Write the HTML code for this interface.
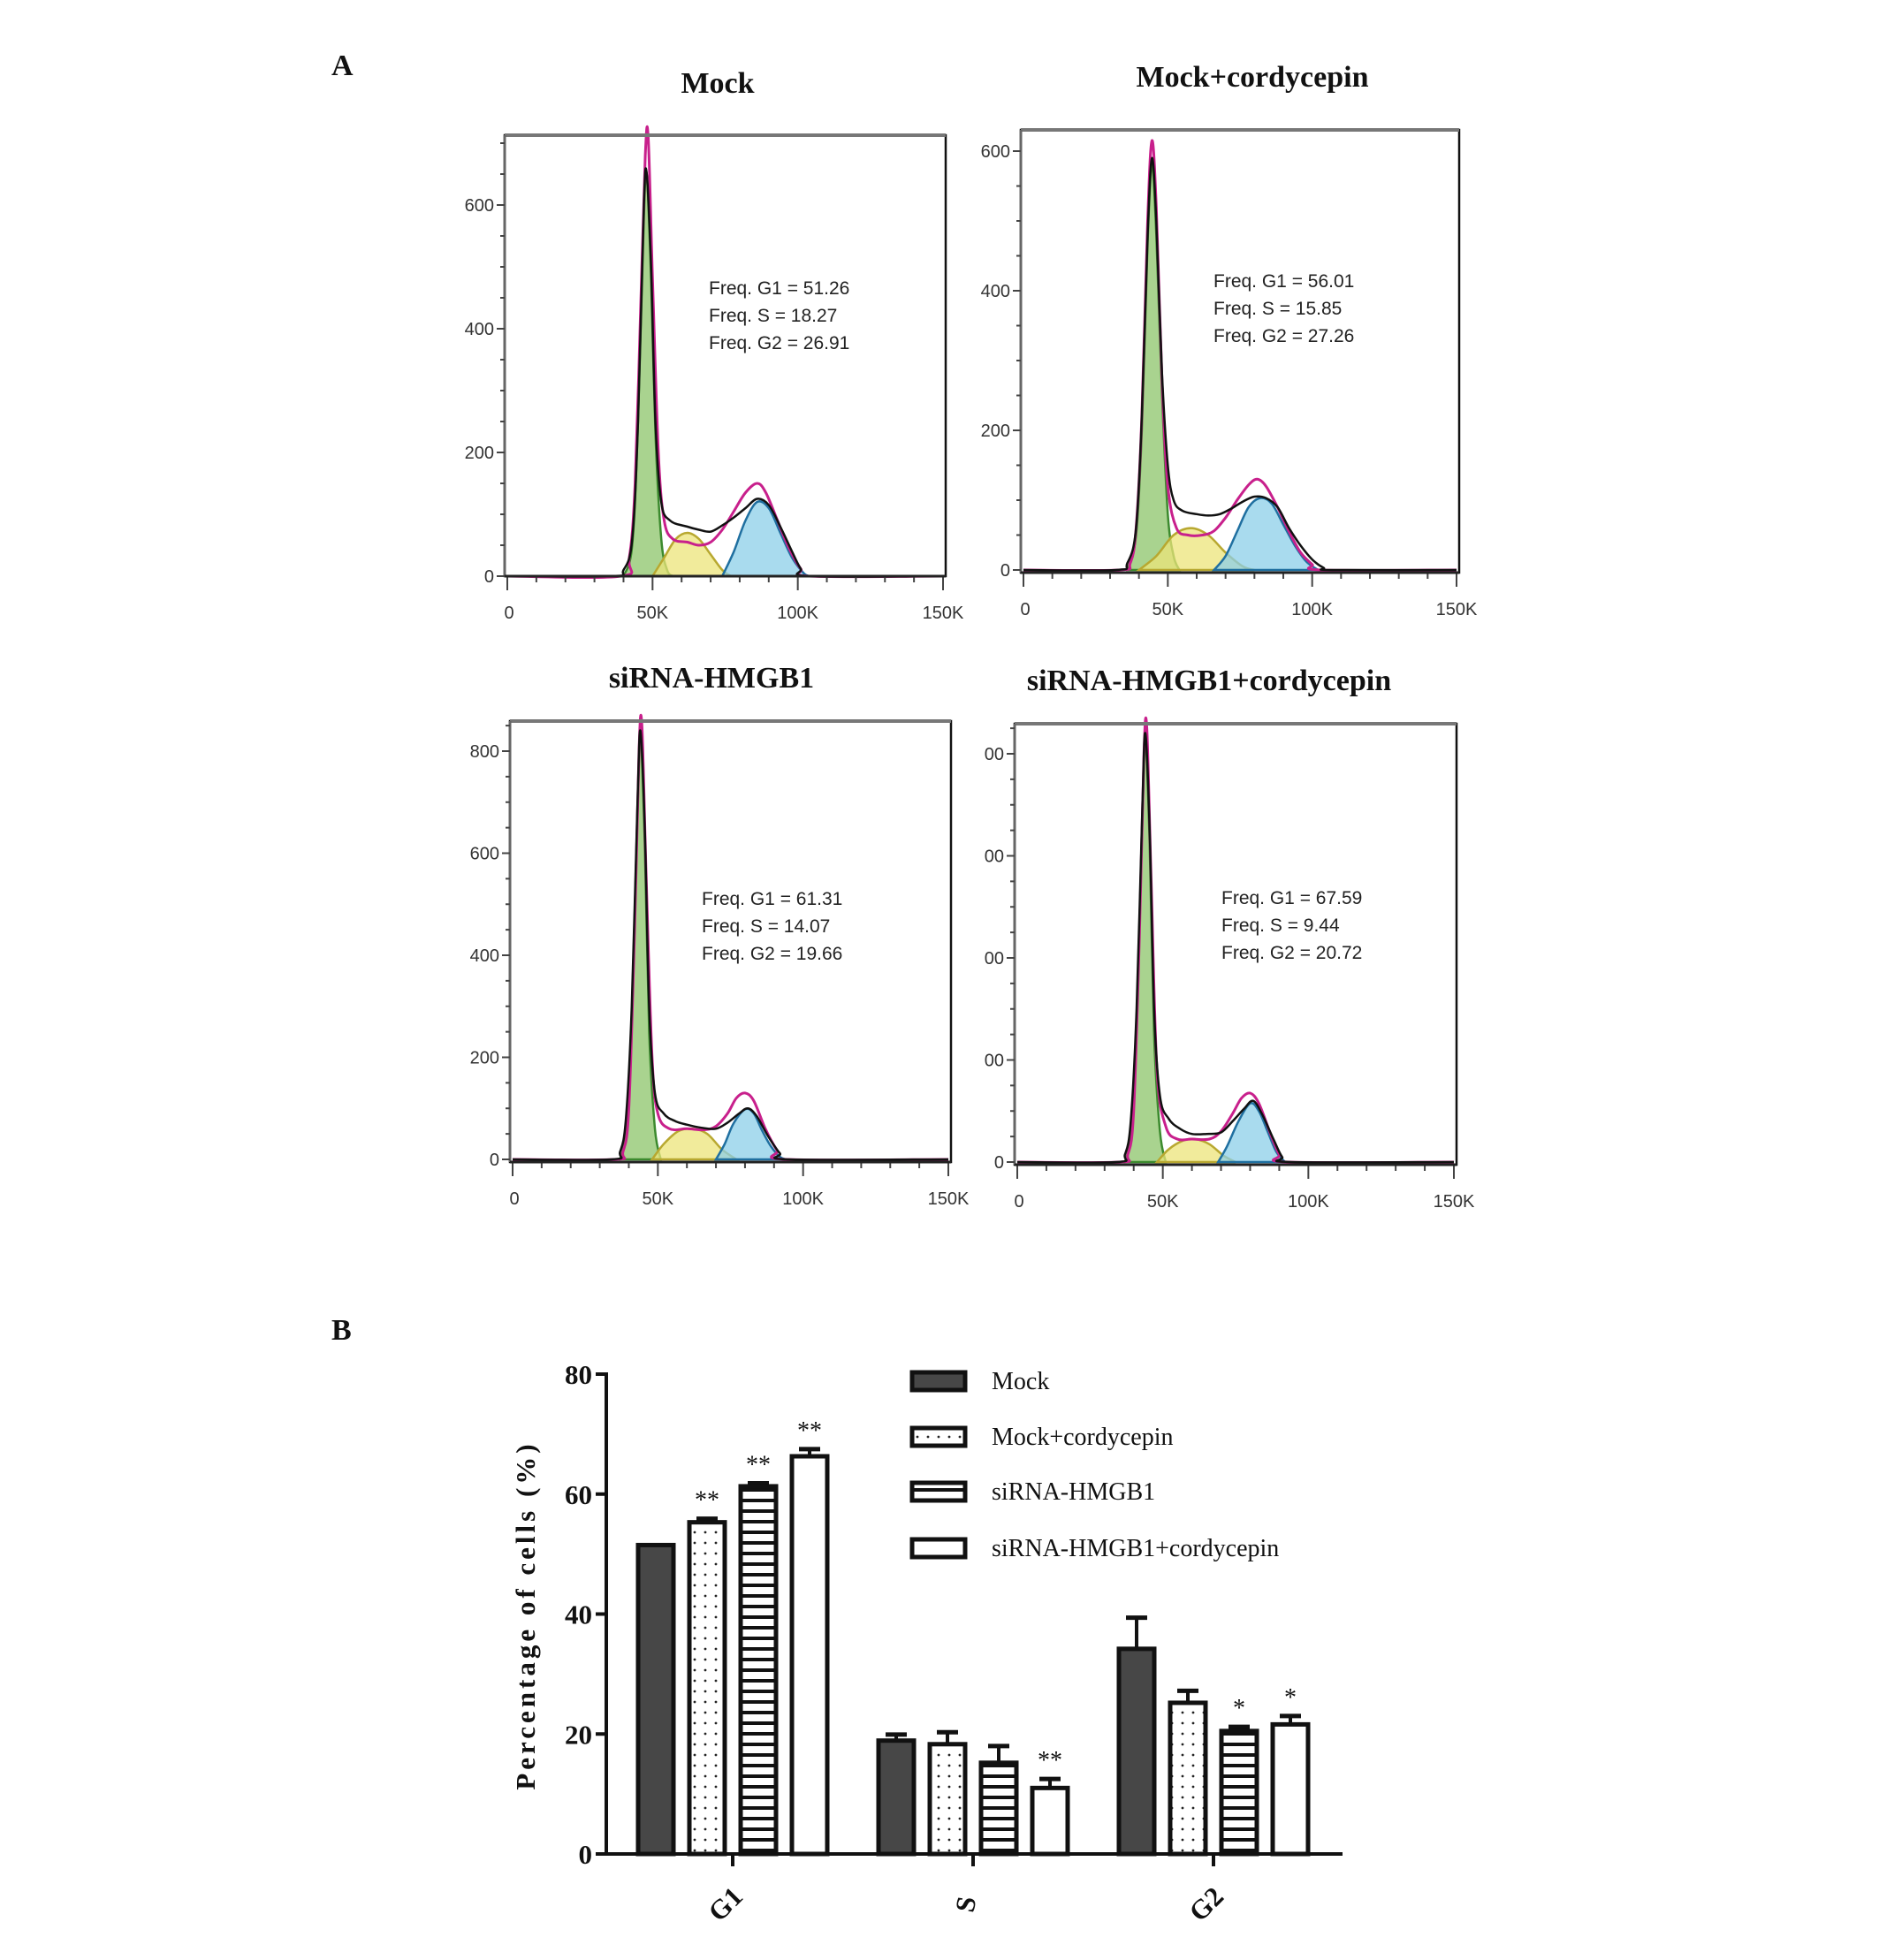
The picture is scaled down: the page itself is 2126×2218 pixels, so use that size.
<!DOCTYPE html>
<html><head><meta charset="utf-8"><style>
html,body{margin:0;padding:0;background:#fff}
svg{display:block}
.ttl{font-family:"Liberation Serif",serif;font-weight:bold;font-size:34px;fill:#111}
.tk{font-family:"Liberation Sans",sans-serif;font-size:20px;fill:#333}
.fq{font-family:"Liberation Sans",sans-serif;font-size:21px;fill:#222}
.bt{font-family:"Liberation Serif",serif;font-weight:bold;font-size:31px;fill:#111}
.lg{font-family:"Liberation Serif",serif;font-size:28px;fill:#111}
</style></head><body>
<svg id="fig" width="2126" height="2218" viewBox="0 0 2126 2218" xmlns="http://www.w3.org/2000/svg">
<defs>
<pattern id="dots" width="12" height="12" patternUnits="userSpaceOnUse"><rect width="12" height="12" fill="#fff"/><circle cx="6" cy="6" r="1.4" fill="#222"/></pattern>
<pattern id="hlines" width="12" height="12" patternUnits="userSpaceOnUse"><rect width="12" height="12" fill="#fff"/><rect y="4" width="12" height="4" fill="#111"/></pattern>
</defs>
<text class="ttl" x="375" y="85">A</text>
<text class="ttl" x="375" y="1516">B</text>
<g id="hists"></g>
<g id="bars"></g>
</svg>
<script>
// ---------- Histogram data (x in K units, y in counts) ----------
const histTitles = ["Mock","Mock+cordycepin","siRNA-HMGB1","siRNA-HMGB1+cordycepin"];
const freqG1 = ["51.26","56.01","61.31","67.59"];
const freqS = ["18.27","15.85","14.07","9.44"];
const freqG2 = ["26.91","27.26","19.66","20.72"];
const xTickLabels = ["0","50K","100K","150K"];
const xTickValues = [0,50,100,150];
const yTicks1 = [0,200,400,600];
const yTicks2 = [0,200,400,600];
const yTicks3 = [0,200,400,600,800];
const yTicks4 = [0,200,400,600,800];
const yTickLabels4 = ["0","00","00","00","00"];

const black1 = [[0,0],[36,0],[40,10],[43,60],[45,250],[47,600],[48,650],[49.5,500],[51,250],[53,120],[56,90],[62,80],[66,75],[70,72],[74,82],[78,95],[82,110],[86,125],[90,115],[94,80],[98,40],[101,12],[104,0],[150,0]];
const mag1 = [[0,0],[39,0],[42,30],[44,150],[46,450],[47.5,680],[48.5,710],[50,480],[52,200],[54,90],[57,60],[62,55],[66,50],[70,55],[74,75],[78,105],[82,135],[86,150],[89,135],[93,90],[97,45],[101,12],[104,0],[150,0]];
const g1_1 = [[40,0],[43,50],[45,250],[47,580],[48,650],[49.5,480],[51,230],[53,60],[55,10],[57,0]];
const s_1 = [[50,0],[54,30],[58,60],[62,70],[66,60],[70,35],[74,10],[77,0]];
const g2_1 = [[74,0],[78,40],[82,90],[86,120],[90,110],[94,70],[98,30],[102,5],[104,0]];

const black2 = [[0,0],[32,0],[36,10],[39,60],[41,220],[43,480],[44.5,590],[46,500],[48,280],[50,150],[52,100],[55,85],[60,80],[64,78],[68,80],[72,88],[76,98],[80,105],[84,103],[88,90],[92,60],[96,35],[100,15],[104,3],[107,0],[150,0]];
const mag2 = [[0,0],[33,0],[37,10],[39,60],[41,220],[43,500],[44.5,615],[46,520],[48,270],[50,120],[53,60],[57,50],[62,50],[66,56],[70,75],[74,100],[78,122],[81,130],[84,120],[88,90],[92,55],[96,25],[100,8],[103,0],[150,0]];
const g1_2 = [[36,0],[39,50],[41,200],[43,470],[44.5,580],[46,480],[48,250],[50,80],[52,20],[54,0]];
const s_2 = [[40,0],[46,20],[52,50],[58,60],[64,50],[70,25],[76,5],[80,0]];
const g2_2 = [[66,0],[70,20],[74,55],[78,90],[82,103],[86,95],[90,65],[94,35],[98,12],[102,0]];

const black3 = [[0,0],[34,0],[37,15],[39,80],[41,300],[43,700],[44,840],[45.5,650],[47,300],[49,130],[52,90],[56,75],[60,68],[65,62],[70,60],[74,72],[78,90],[81,100],[84,85],[88,45],[92,12],[95,0],[150,0]];
const mag3 = [[0,0],[35,0],[38,15],[40,100],[42,450],[43.5,800],[44.5,850],[46,550],[48,200],[50,90],[54,60],[60,60],[66,58],[70,65],[74,90],[77,120],[80,130],[83,115],[87,60],[91,18],[94,0],[150,0]];
const g1_3 = [[37,0],[39,60],[41,280],[43,680],[44,830],[45.5,620],[47,250],[49,60],[51,0]];
const s_3 = [[48,0],[52,30],[57,55],[62,60],[67,50],[72,20],[77,0]];
const g2_3 = [[70,0],[73,30],[76,70],[80,98],[83,90],[86,55],[89,25],[92,5],[94,0]];

const black4 = [[0,0],[34,0],[37,15],[39,80],[41,300],[43,700],[44,840],[45.5,650],[47,300],[49,130],[52,85],[56,65],[60,55],[65,55],[70,58],[74,80],[78,105],[81,120],[84,95],[88,45],[91,10],[94,0],[150,0]];
const mag4 = [[0,0],[35,0],[38,15],[40,100],[42,450],[43.5,800],[44.5,850],[46,550],[48,180],[51,70],[55,45],[60,45],[66,45],[70,60],[74,95],[77,125],[80,135],[83,115],[87,55],[90,15],[93,0],[150,0]];
const g1_4 = [[37,0],[39,60],[41,280],[43,680],[44,830],[45.5,620],[47,250],[49,60],[51,0]];
const s_4 = [[48,0],[52,25],[57,42],[61,45],[66,35],[71,12],[75,0]];
const g2_4 = [[69,0],[72,30],[76,80],[80,115],[83,100],[86,60],[89,20],[92,0]];

// ---------- Bar chart data ----------
const barCategories = ["G1","S","G2"];
const seriesNames = ["Mock","Mock+cordycepin","siRNA-HMGB1","siRNA-HMGB1+cordycepin"];
const mockVals = [51.5,18.9,34.2];
const mockCordVals = [55.3,18.3,25.2];
const siVals = [61.3,15.2,20.5];
const siCordVals = [66.3,11.0,21.6];
const mockErr = [0,1.0,5.2];
const mockCordErr = [0.6,2.0,2.0];
const siErr = [0.5,2.8,0.7];
const siCordErr = [1.2,1.5,1.4];
const mockStars = ["","",""];
const mockCordStars = ["**","",""];
const siStars = ["**","","*"];
const siCordStars = ["**","**","*"];
const barYTicks = [0,20,40,60,80];

const NS="http://www.w3.org/2000/svg";
function mk(tag,attrs,parent){const e=document.createElementNS(NS,tag);for(const k in attrs)e.setAttribute(k,attrs[k]);parent.appendChild(e);return e;}
function smooth(pts){let d="M"+pts[0][0]+","+pts[0][1];for(let i=0;i<pts.length-1;i++){const p0=pts[i-1]||pts[i],p1=pts[i],p2=pts[i+1],p3=pts[i+2]||p2;const c1=[p1[0]+(p2[0]-p0[0])/6,p1[1]+(p2[1]-p0[1])/6],c2=[p2[0]-(p3[0]-p1[0])/6,p2[1]-(p3[1]-p1[1])/6];d+=" C"+c1[0].toFixed(1)+","+c1[1].toFixed(1)+" "+c2[0].toFixed(1)+","+c2[1].toFixed(1)+" "+p2[0].toFixed(1)+","+p2[1].toFixed(1);}return d;}

const panels=[
 {x0:571,x1:1070,top:153,bot:652,zero:652,ppc:0.70,ticks:yTicks1,labels:null,black:black1,mag:mag1,g1:g1_1,s:s_1,g2:g2_1,tx:812,ty:105,fx:802,fy:333},
 {x0:1155,x1:1651,top:147,bot:648,zero:645,ppc:0.79,ticks:yTicks2,labels:null,black:black2,mag:mag2,g1:g1_2,s:s_2,g2:g2_2,tx:1417,ty:98,fx:1373,fy:325},
 {x0:577,x1:1076,top:816,bot:1315,zero:1312,ppc:0.5775,ticks:yTicks3,labels:null,black:black3,mag:mag3,g1:g1_3,s:s_3,g2:g2_3,tx:805,ty:778,fx:794,fy:1024},
 {x0:1148,x1:1648,top:819,bot:1318,zero:1315,ppc:0.5775,ticks:yTicks4,labels:yTickLabels4,black:black4,mag:mag4,g1:g1_4,s:s_4,g2:g2_4,tx:1368,ty:781,fx:1382,fy:1023}
];
const hg=document.getElementById('hists');
panels.forEach((p,i)=>{
 const g=mk('g',{},hg);
 
 
 const xs=v=>p.x0+3+v/150*(p.x1-p.x0-6), ys=v=>p.zero-v*p.ppc;
 const t=mk('text',{class:'ttl','text-anchor':'middle',x:p.tx,y:p.ty},g);t.textContent=histTitles[i];
 
 
 const area=(pts,fill,stroke,name)=>{const q=pts.map(a=>[xs(a[0]),ys(a[1])]);const e=mk('path',{d:smooth(q)+" Z",fill:fill,stroke:stroke,'stroke-width':2.5,'fill-opacity':0.75},g);
  
  };
 area(p.g1,'#8cc46a','#3c8a2e','g1-fill');
 area(p.s,'#ece47a','#b8a830','s-fill');
 area(p.g2,'#8ccfe8','#1f6fa0','g2-fill');
 const line=(pts,col,w,name)=>{const q=pts.map(a=>[xs(a[0]),ys(a[1])]);const e=mk('path',{d:smooth(q),fill:'none',stroke:col,'stroke-width':w},g);
  
  };
 line(p.mag,'#c8208c',3,'model-fit-line');
 line(p.black,'#111',2.5,'data-line');
 const fr=mk('rect',{x:p.x0,y:p.top,width:p.x1-p.x0,height:p.bot-p.top,fill:'none',stroke:'#111','stroke-width':2.5},g);
 
 
 mk('line',{x1:p.x0,x2:p.x1,y1:p.top,y2:p.top,stroke:'#777','stroke-width':4},g);
 mk('line',{x1:p.x0,x2:p.x0,y1:p.top,y2:p.bot,stroke:'#666','stroke-width':3},g);
 const ymaxC=(p.zero-p.top)/p.ppc;
 for(let v=0;v<=ymaxC;v+=50){mk('line',{x1:p.x0-(v%200===0?9:5),x2:p.x0,y1:ys(v),y2:ys(v),stroke:'#444','stroke-width':2},g);}
 p.ticks.forEach((v,j)=>{const e=mk('text',{class:'tk','text-anchor':'end',x:p.x0-12,y:ys(v)+7},g);e.textContent=p.labels?p.labels[j]:String(v);
  
  });
 for(let v=0;v<=150;v+=10){mk('line',{x1:xs(v),x2:xs(v),y1:p.bot,y2:p.bot+(v%50===0?16:7),stroke:'#444','stroke-width':2},g);}
 mk('line',{x1:p.x0,x2:p.x1,y1:p.bot,y2:p.bot,stroke:'#222','stroke-width':3},g);
 xTickValues.forEach((v,j)=>{const e=mk('text',{class:'tk','text-anchor':'middle',x:xs(v)+(j===0?2:0),y:p.bot+48},g);e.textContent=xTickLabels[j];
  
  });
 [["Freq. G1  = ",freqG1[i]],["Freq. S = ",freqS[i]],["Freq. G2  = ",freqG2[i]]].forEach((r,j)=>{const e=mk('text',{class:'fq',x:p.fx,y:p.fy+j*31},g);e.textContent=r[0]+r[1];
  
  });
});

// ---------- Bar chart ----------
const bg=document.getElementById('bars');
const AX=686, Y0=2098, PPU=(2098-1555)/80, XEND=1519;
const yb=v=>Y0-v*PPU;
const groupCenters=[829,1101,1373], barOff=[-87,-29,29,87], BW=40;
const vals=[mockVals,mockCordVals,siVals,siCordVals], errs=[mockErr,mockCordErr,siErr,siCordErr], stars=[mockStars,mockCordStars,siStars,siCordStars];
const fills=['#474747','url(#dots)','url(#hlines)','#fff'];
barYTicks.forEach(v=>{mk('line',{x1:AX-12,x2:AX,y1:yb(v),y2:yb(v),stroke:'#111','stroke-width':4},bg);
 const e=mk('text',{class:'bt','text-anchor':'end',x:AX-16,y:yb(v)+11},bg);e.textContent=v;
 
 });
for(let s=0;s<4;s++){for(let c=0;c<3;c++){
 const cx=groupCenters[c]+barOff[s], v=vals[s][c], er=errs[s][c];
 if(er>0){mk('line',{x1:cx,x2:cx,y1:yb(v),y2:yb(v+er),stroke:'#111','stroke-width':4},bg);
  mk('line',{x1:cx-12,x2:cx+12,y1:yb(v+er),y2:yb(v+er),stroke:'#111','stroke-width':5},bg);}
 const r=mk('rect',{x:cx-BW/2,y:yb(v),width:BW,height:Y0-yb(v),fill:fills[s],stroke:'#111','stroke-width':5},bg);
 
 
 if(stars[s][c]){const t=mk('text',{class:'lg','text-anchor':'middle',x:cx,y:yb(v+er)-12,'font-size':'26'},bg);t.textContent=stars[s][c];
  
  }
}}
mk('line',{x1:AX,x2:AX,y1:1553,y2:Y0+2,stroke:'#111','stroke-width':4},bg);
mk('line',{x1:AX,x2:XEND,y1:Y0,y2:Y0,stroke:'#111','stroke-width':4},bg);
barCategories.forEach((c,i)=>{mk('line',{x1:groupCenters[i],x2:groupCenters[i],y1:Y0,y2:Y0+14,stroke:'#111','stroke-width':4},bg);
 const x=groupCenters[i]-8,y=2165;const t=mk('text',{class:'bt','text-anchor':'middle',x:x,y:y,transform:'rotate('+(c==='S'?-80:-45)+' '+x+' '+(y-10)+')'},bg);t.textContent=c;
 
 });
const yt=mk('text',{class:'bt','text-anchor':'middle',x:605,y:1828,transform:'rotate(-90 605 1828)','font-size':'36','letter-spacing':'4'},bg);yt.textContent="Percentage of cells (%)";


const legY=[1563,1626,1688,1752];
seriesNames.forEach((n,i)=>{const g=mk('g',{},bg);
 
 
 mk('rect',{x:1032,y:legY[i]-10,width:60,height:20,fill:fills[i],stroke:'#111','stroke-width':5},g);
 const t=mk('text',{class:'lg',x:1122,y:legY[i]+9},g);t.textContent=n;});
</script>
</body></html>
